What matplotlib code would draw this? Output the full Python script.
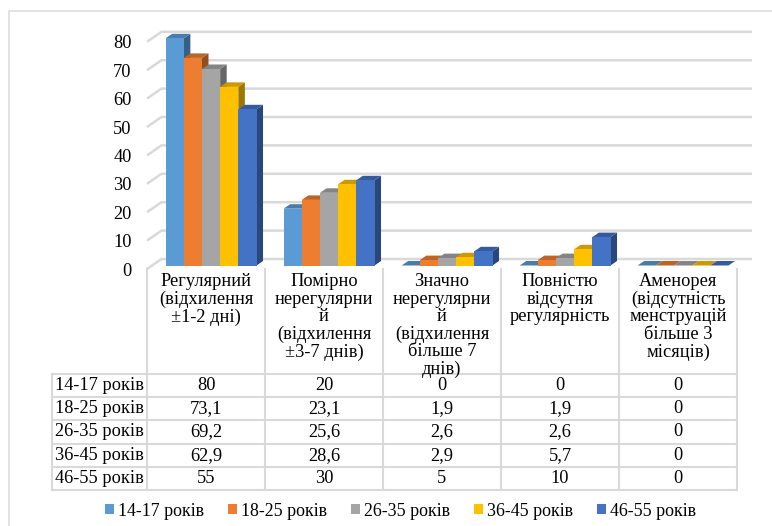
import matplotlib
matplotlib.use('Agg')
import matplotlib.pyplot as plt
from matplotlib.patches import Polygon, Rectangle, Patch
from matplotlib.colors import to_rgb
import numpy as np

plt.rcParams['font.family'] = ['Liberation Serif', 'DejaVu Serif']

# ---------------- data ----------------
categories = [
    "Регулярний\n(відхилення\n±1-2 дні)",
    "Помірно\nнерегулярни\nй\n(відхилення\n±3-7 днів)",
    "Значно\nнерегулярни\nй\n(відхилення\nбільше 7\nднів)",
    "Повністю\nвідсутня\nрегулярність",
    "Аменорея\n(відсутність\nменструацій\nбільше 3\nмісяців)",
]
series_names = ["14-17 років", "18-25 років", "26-35 років", "36-45 років", "46-55 років"]
v_14_17 = [80, 20, 0, 0, 0]
v_18_25 = [73.1, 23.1, 1.9, 1.9, 0]
v_26_35 = [69.2, 25.6, 2.6, 2.6, 0]
v_36_45 = [62.9, 28.6, 2.9, 5.7, 0]
v_46_55 = [55, 30, 5, 10, 0]
series = [v_14_17, v_18_25, v_26_35, v_36_45, v_46_55]
y_ticks = [0, 10, 20, 30, 40, 50, 60, 70, 80]
colors = ["#5B9BD5", "#ED7D31", "#A5A5A5", "#FFC000", "#4472C4"]

# ---------------- layout ----------------
W, H = 772, 526
fig = plt.figure(figsize=(W / 100, H / 100), dpi=100)


def fx(px):
    return px / W


def fy(py):
    return 1 - py / H


col_px = 118.0      # width of one category column
x0_px = 147.0       # left of front plane
base_px = 269.0     # value 0 on the front plane
ppu = 2.84          # pixels per value unit
depth = (14.5, 10.0)
right_px = 752.0
top_px = 22.0
tab_bottom_px = 490.0
hdr_bottom_px = 374.0
rowhdr_left_px = 52.0
FS = 13.2
grid_c = "#D9D9D9"

# outer frame
fig.add_artist(Rectangle((fx(8.5), -0.1), 1.2, fy(10.5) + 0.1, transform=fig.transFigure,
                         fill=False, ec="#DDDDDD", lw=1.2))

ax = fig.add_axes([fx(x0_px), fy(base_px), (right_px - x0_px) / W, (base_px - top_px) / H])
xmax = (right_px - x0_px) / col_px
ymax = (base_px - top_px) / ppu
ax.set_xlim(0, xmax)
ax.set_ylim(0, ymax)
DX = depth[0] / col_px
DY = depth[1] / ppu
for s in ax.spines.values():
    s.set_visible(False)
ax.patch.set_visible(False)
ax.set_xticks([])
ax.set_yticks(y_ticks)
ax.set_yticklabels([str(t) for t in y_ticks], fontsize=FS)
ax.tick_params(axis='y', length=0, pad=11)

# walls gridlines (side wall diagonal + back wall horizontal)
for t in y_ticks:
    ax.plot([0, DX, xmax], [t, t + DY, t + DY], color=grid_c, lw=1.8, zorder=1,
            clip_on=False, solid_capstyle='butt')

# 3D bars
n = len(series)
w = 0.154
a = (1 - n * w) / 2
f0, f1 = 0.35, 0.8
ddx, ddy = (f1 - f0) * DX, (f1 - f0) * DY
b = f0 * DY
for j, vals in enumerate(series):
    c = np.array(to_rgb(colors[j]))
    xs = np.arange(len(vals)) + a + j * w + f0 * DX
    for x, v in zip(xs, vals):
        side = Polygon([(x + w, b), (x + w, b + v), (x + w + ddx, b + v + ddy), (x + w + ddx, b + ddy)],
                       closed=True, fc=c * 0.62, ec='none', zorder=3 + j)
        top = Polygon([(x, b + v), (x + w, b + v), (x + w + ddx, b + v + ddy), (x + ddx, b + v + ddy)],
                      closed=True, fc=c * 0.8, ec='none', zorder=3 + j)
        ax.add_patch(side)
        ax.add_patch(top)
    ax.bar(xs, vals, width=w, bottom=b, align='edge', color=colors[j], linewidth=0,
           zorder=3.5 + j)

# ---------------- data table ----------------
tax = fig.add_axes([fx(x0_px), fy(tab_bottom_px), (right_px - x0_px) / W,
                    (tab_bottom_px - base_px) / H])
tax.set_xlim(0, xmax)
tax.set_ylim(tab_bottom_px, base_px)
tax.axis('off')
xl = (rowhdr_left_px - x0_px) / col_px
ncat = len(categories)
row_h = (tab_bottom_px - hdr_bottom_px) / len(series_names)

for i in range(ncat + 1):
    tax.plot([i, i], [base_px, tab_bottom_px], color=grid_c, lw=1.5, clip_on=False)
tax.plot([xl, xl], [hdr_bottom_px, tab_bottom_px], color=grid_c, lw=1.5, clip_on=False)
for k in range(len(series_names) + 1):
    yy = hdr_bottom_px + k * row_h
    tax.plot([xl, ncat], [yy, yy], color=grid_c, lw=1.5, clip_on=False)

for i, cat in enumerate(categories):
    tax.text(i + 0.5, 273.0, cat, ha='center', va='top', fontsize=FS, linespacing=1.04)

for k, (name, vals) in enumerate(zip(series_names, series)):
    yy = hdr_bottom_px + (k + 0.5) * row_h
    tax.text(xl + 0.022, yy, name, ha='left', va='center', fontsize=FS, clip_on=False)
    for i, v in enumerate(vals):
        tax.text(i + 0.5, yy, f"{v:g}".replace('.', ','), ha='center', va='center', fontsize=FS)

# legend
handles = [Patch(facecolor=c, edgecolor='none') for c in colors]
fig.legend(handles, series_names, loc='center', bbox_to_anchor=(fx(400.5), fy(511)), ncol=5,
           frameon=False, fontsize=12.9, handlelength=0.5, handleheight=0.5,
           handletextpad=0.22, columnspacing=1.34, borderpad=0)

fig.savefig('out.png', dpi=100)
